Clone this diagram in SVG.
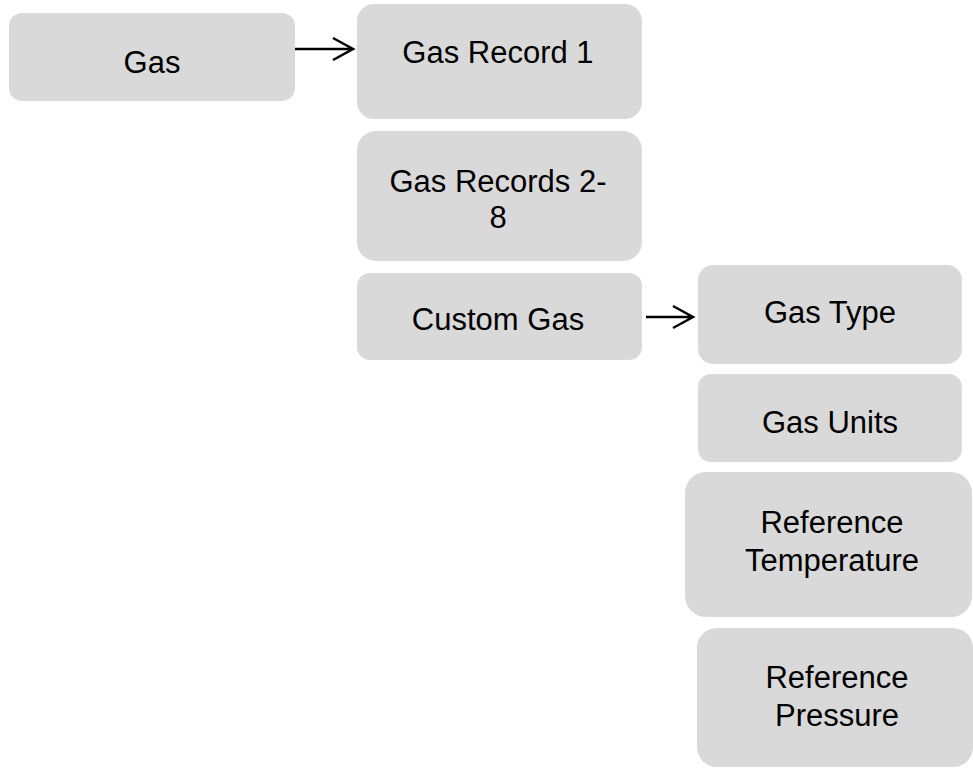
<svg xmlns="http://www.w3.org/2000/svg" width="973" height="770" viewBox="0 0 973 770">
<style>
.box{fill:#d9d9d9;}
.t{font-family:"Liberation Sans",Arial,sans-serif;font-size:31px;fill:#000;text-anchor:middle;}
.c{stroke:#000;stroke-width:2.5;fill:none;}
</style>
<rect width="973" height="770" fill="#fff"/>
<g id="connectors">
<path class="c" d="M295 49 H353 M333 38 L353 49 L333 60"/>
<path class="c" d="M646 317 H693 M673 306 L693 317 L673 328"/>
</g>
<g id="gas"><rect class="box" x="9" y="13" width="286" height="88" rx="13"/><text class="t" x="152" y="73">Gas</text></g>
<g id="gas-record-1"><rect class="box" x="357" y="4" width="285" height="115" rx="17"/><text class="t" x="498" y="63">Gas Record 1</text></g>
<g id="gas-records-2-8"><rect class="box" x="357" y="131" width="285" height="130" rx="19"/><text class="t" x="498" y="192">Gas Records 2-</text><text class="t" x="498" y="228">8</text></g>
<g id="custom-gas"><rect class="box" x="357" y="273" width="285" height="87" rx="13"/><text class="t" x="498" y="330">Custom Gas</text></g>
<g id="gas-type"><rect class="box" x="698" y="265" width="264" height="99" rx="15"/><text class="t" x="830" y="323">Gas Type</text></g>
<g id="gas-units"><rect class="box" x="698" y="374" width="264" height="88" rx="13"/><text class="t" x="830" y="433">Gas Units</text></g>
<g id="reference-temperature"><rect class="box" x="685" y="472" width="287" height="145" rx="21"/><text class="t" x="832" y="533">Reference</text><text class="t" x="832" y="571">Temperature</text></g>
<g id="reference-pressure"><rect class="box" x="697" y="628" width="276" height="139" rx="20"/><text class="t" x="837" y="688">Reference</text><text class="t" x="837" y="726">Pressure</text></g>
</svg>
